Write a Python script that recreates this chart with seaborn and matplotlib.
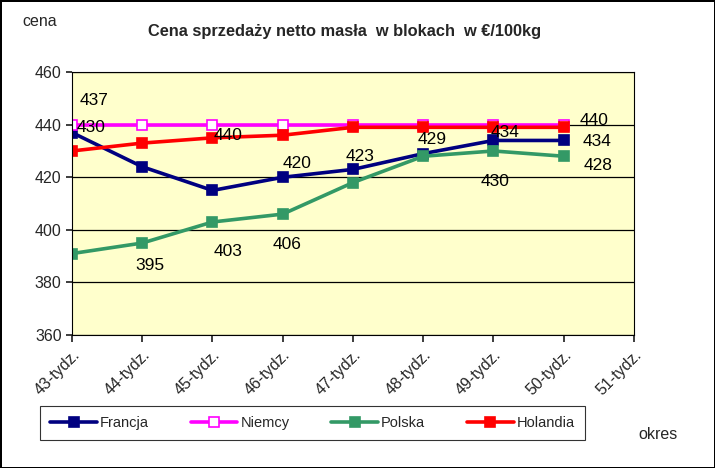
import seaborn as sns
import matplotlib.pyplot as plt
import pandas as pd

weeks = ["43-tydz.", "44-tydz.", "45-tydz.", "46-tydz.", "47-tydz.",
         "48-tydz.", "49-tydz.", "50-tydz.", "51-tydz."]

francja = [437, 424, 415, 420, 423, 429, 434, 434]
niemcy = [440, 440, 440, 440, 440, 440, 440, 440]
polska = [391, 395, 403, 406, 418, 428, 430, 428]
holandia = [430, 433, 435, 436, 439, 439, 439, 439]

series = {
    "Francja": (francja, "#000080", "#000080"),
    "Niemcy": (niemcy, "#FF00FF", "white"),
    "Polska": (polska, "#339966", "#339966"),
    "Holandia": (holandia, "#FF0000", "#FF0000"),
}

# data labels: (series, week index, text offset in points)
labels = [
    ("Francja", 0, (16, 23)), ("Francja", 3, (10, 10)), ("Francja", 4, (5, 9.5)),
    ("Francja", 5, (6.5, 10)), ("Francja", 6, (8, 6)), ("Francja", 7, (24, -1)),
    ("Polska", 1, (5.5, -16)), ("Polska", 2, (11, -21)), ("Polska", 3, (3, -22)),
    ("Polska", 6, (1, -22)), ("Polska", 7, (24.5, -6.5)),
    ("Holandia", 0, (14, 17)), ("Niemcy", 2, (11, -7.5)), ("Niemcy", 7, (22, 3.3)),
]

sns.set_theme(style="white")
plt.rcParams["font.family"] = ["Liberation Sans", "DejaVu Sans"]

fig = plt.figure(figsize=(7.15, 4.68), dpi=100)
fig.patch.set_edgecolor("black")
fig.patch.set_linewidth(2)
ax = fig.add_axes([0.1007, 0.284, 0.786, 0.562])
ax.set_facecolor("#FFFFCC")

for name, (vals, col, face) in series.items():
    df = pd.DataFrame({"x": range(len(vals)), "y": vals})
    sns.lineplot(data=df, x="x", y="y", ax=ax, color=col, linewidth=2.6,
                 marker="s", markersize=7, markerfacecolor=face,
                 markeredgecolor=col, markeredgewidth=1.2, label=name)

for name, i, off in labels:
    v = series[name][0][i]
    ax.annotate(str(v), xy=(i, v), xytext=off, textcoords="offset points",
                ha="center", va="center", fontsize=12.5, color="black")

ax.set_xlim(0, 8)
ax.set_ylim(360, 460)
ax.set_yticks(range(360, 461, 20))
ax.set_xticks(range(len(weeks)))
ax.set_xticklabels(weeks, rotation=45, ha="right", rotation_mode="anchor", fontsize=11.5)
ax.tick_params(axis="y", labelsize=11.5, length=4, direction="out", left=True)
ax.tick_params(axis="x", length=5, direction="out", bottom=True)
ax.grid(axis="y", color="black", linewidth=0.9)
for s in ax.spines.values():
    s.set_color("black")
    s.set_linewidth(0.8)
ax.set_xlabel("")
ax.set_ylabel("")

handles, names = ax.get_legend_handles_labels()
ax.get_legend().remove()
leg = fig.legend(handles, names, loc="lower left", ncol=4, mode="expand",
                 bbox_to_anchor=(0.056, 0.06, 0.762, 0.08), borderaxespad=0,
                 frameon=True, fancybox=False, edgecolor="black", fontsize=10.5,
                 handlelength=3.2, borderpad=0.7, handletextpad=0.2)
leg.get_frame().set_linewidth(0.8)

fig.text(0.482, 0.933, "Cena sprzedaży netto masła  w blokach  w €/100kg",
         ha="center", va="center", fontsize=11.8, fontweight="bold")
fig.text(0.055, 0.955, "cena", ha="center", va="center", fontsize=11.5)
fig.text(0.92, 0.072, "okres", ha="center", va="center", fontsize=11.5)

fig.savefig("out.png", dpi=100)
